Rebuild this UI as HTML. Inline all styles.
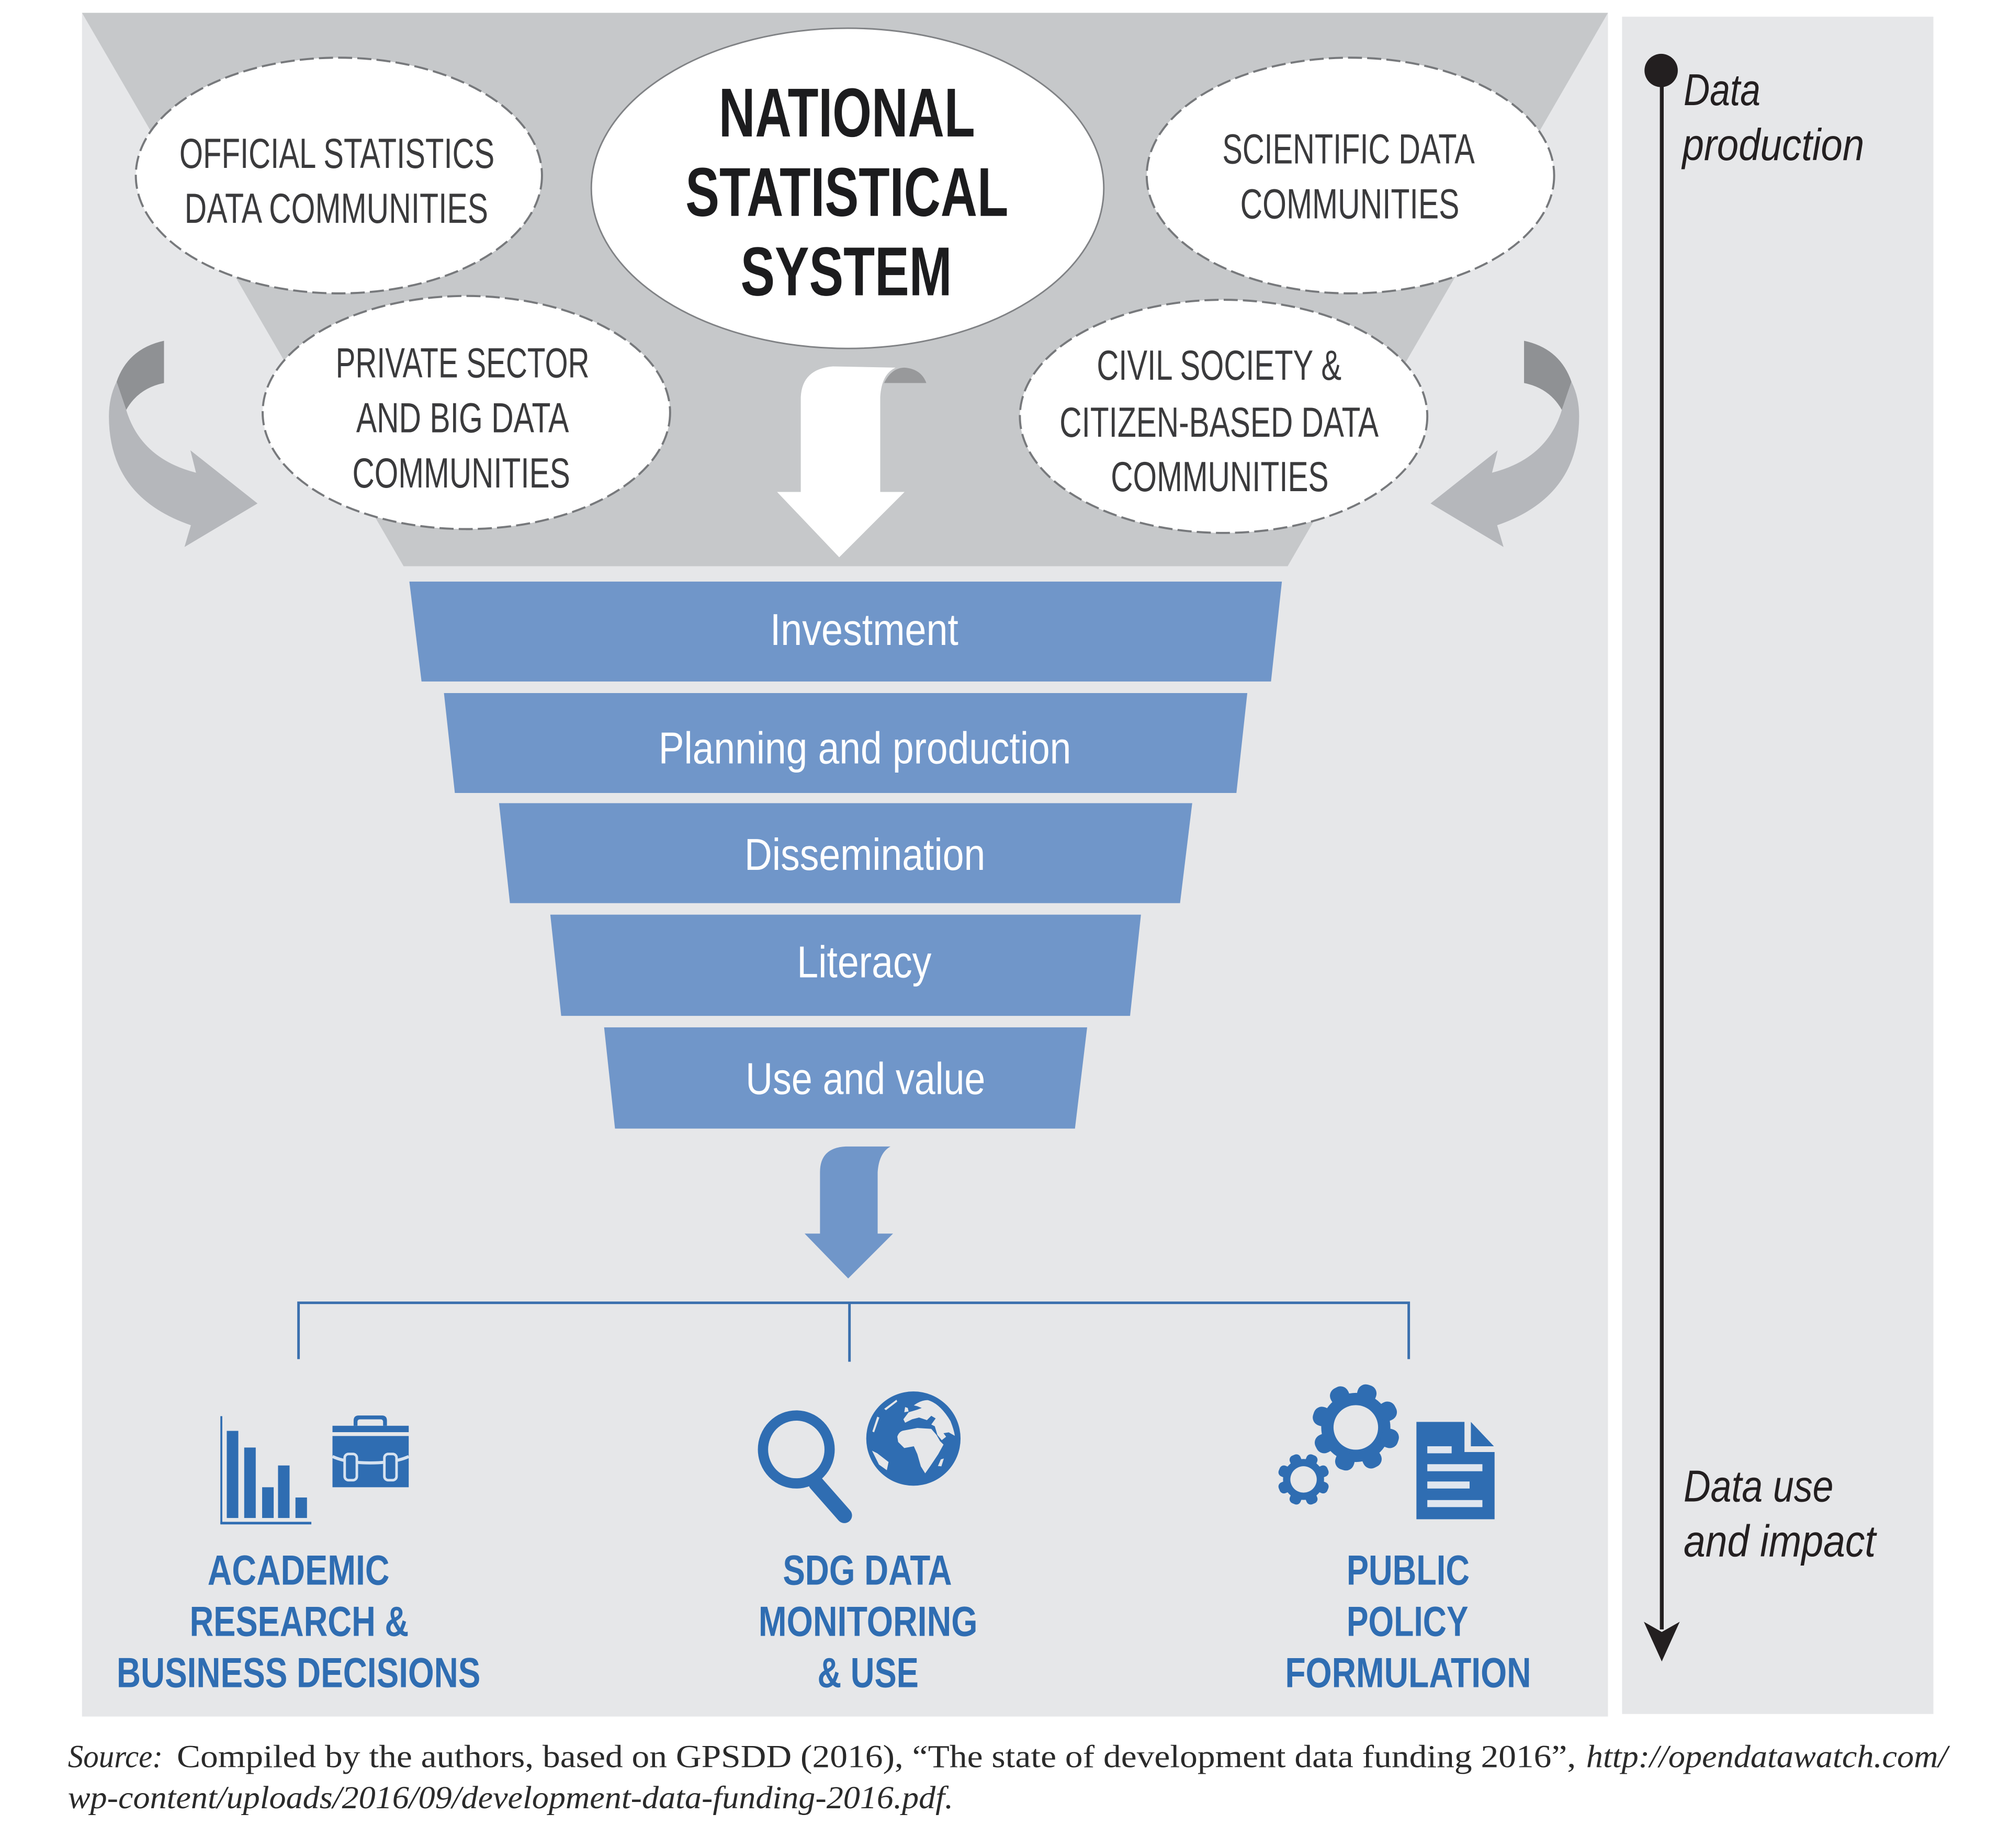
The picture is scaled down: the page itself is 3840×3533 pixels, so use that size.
<!DOCTYPE html>
<html><head><meta charset="utf-8"><style>
html,body{margin:0;padding:0;background:#fff}
svg{display:block}
text{font-family:"Liberation Sans",sans-serif}
.e{font-size:33px;fill:#3a3a3c}
.n{font-size:54px;font-weight:bold;fill:#1c1c1e}
.b{font-size:35px;fill:#fff}
.l{font-size:33px;font-weight:bold;fill:#2f6db2}
.i{font-size:35px;font-style:italic;fill:#231f20}
.s{font-family:"Liberation Serif",serif;font-size:25px;fill:#2a2a2a}
.si{font-style:italic}
</style></head><body>
<svg xmlns="http://www.w3.org/2000/svg" width="3840" height="3533" viewBox="0 0 1568 1442.6">
<rect width="1568" height="1442.6" fill="#fff"/>
<rect x="64" y="10" width="1191" height="1330" fill="#e6e7e9"/>
<rect x="1266" y="13" width="243" height="1325" fill="#e6e7e9"/>
<polygon points="64,10 1255,10 1005,442 315,442" fill="#c6c8ca"/>

<ellipse cx="661.500" cy="147" rx="200" ry="125" fill="#fff" stroke="#808285" stroke-width="1.2"/>
<g fill="#fff" stroke="#77797c" stroke-width="1.6" stroke-dasharray="11 4">
<ellipse cx="264.500" cy="137" rx="158.500" ry="92"/>
<ellipse cx="1054" cy="137" rx="159" ry="92"/>
<ellipse cx="364" cy="322" rx="159" ry="91"/>
<ellipse cx="955" cy="325" rx="159" ry="91"/>
</g>

<text class="e" x="140" y="131" textLength="246" lengthAdjust="spacingAndGlyphs">OFFICIAL STATISTICS</text>
<text class="e" x="144" y="174" textLength="237" lengthAdjust="spacingAndGlyphs">DATA COMMUNITIES</text>
<text class="e" x="954" y="127.500" textLength="197" lengthAdjust="spacingAndGlyphs">SCIENTIFIC DATA</text>
<text class="e" x="968" y="170.500" textLength="171" lengthAdjust="spacingAndGlyphs">COMMUNITIES</text>
<text class="e" x="262" y="294.500" textLength="198" lengthAdjust="spacingAndGlyphs">PRIVATE SECTOR</text>
<text class="e" x="278" y="337.500" textLength="166" lengthAdjust="spacingAndGlyphs">AND BIG DATA</text>
<text class="e" x="275" y="380.500" textLength="170" lengthAdjust="spacingAndGlyphs">COMMUNITIES</text>
<text class="e" x="856" y="296.500" textLength="191" lengthAdjust="spacingAndGlyphs">CIVIL SOCIETY &amp;</text>
<text class="e" x="827" y="341" textLength="249" lengthAdjust="spacingAndGlyphs">CITIZEN-BASED DATA</text>
<text class="e" x="867" y="383.500" textLength="170" lengthAdjust="spacingAndGlyphs">COMMUNITIES</text>

<text class="n" x="561" y="106.500" textLength="200" lengthAdjust="spacingAndGlyphs">NATIONAL</text>
<text class="n" x="535" y="168.500" textLength="252" lengthAdjust="spacingAndGlyphs">STATISTICAL</text>
<text class="n" x="578" y="230.500" textLength="165" lengthAdjust="spacingAndGlyphs">SYSTEM</text>

<!-- white arrow -->
<path d="M690 299 Q696 287 706 287 Q719 288 723 299 Z" fill="#98999b"/>
<path d="M625 384 V310 Q626 288 650 286 L699 287 Q688 292 687 310 V384 H706 L655 435 L606.500 384 Z" fill="#fff"/>

<!-- side arrows -->
<g>
<path d="M128 266 V299 Q108 303 98.500 320 L91 298 Q100 272 128 266 Z" fill="#8f9194"/>
<path d="M91 298 L98.500 320 Q110 358 153 369 L148.600 351.500 L201 393 L144 427 L149 410 Q85 388 85 325 Q85 310 91 298 Z" fill="#b5b7bb"/>
</g>
<g transform="translate(1317.5,0) scale(-1,1)">
<path d="M128 266 V299 Q108 303 98.500 320 L91 298 Q100 272 128 266 Z" fill="#8f9194"/>
<path d="M91 298 L98.500 320 Q110 358 153 369 L148.600 351.500 L201 393 L144 427 L149 410 Q85 388 85 325 Q85 310 91 298 Z" fill="#b5b7bb"/>
</g>

<!-- funnel bars -->
<g fill="#7096c9">
<polygon points="319.500,454 1000.500,454 992,532 329,532"/>
<polygon points="346.500,541 973.500,541 965,619 355,619"/>
<polygon points="389.500,627 930.500,627 921,705 398,705"/>
<polygon points="429.500,714 890.500,714 882,793 438,793"/>
<polygon points="471.500,802 848.500,802 839,881 480,881"/>
</g>
<text class="b" x="601" y="503.500" textLength="147" lengthAdjust="spacingAndGlyphs">Investment</text>
<text class="b" x="514" y="596" textLength="322" lengthAdjust="spacingAndGlyphs">Planning and production</text>
<text class="b" x="581" y="679" textLength="188" lengthAdjust="spacingAndGlyphs">Dissemination</text>
<text class="b" x="622" y="763" textLength="105" lengthAdjust="spacingAndGlyphs">Literacy</text>
<text class="b" x="582" y="854" textLength="187" lengthAdjust="spacingAndGlyphs">Use and value</text>

<!-- blue arrow -->
<path d="M640 963 V915 Q640 896 660 895 H695 Q686 900 685 915 V963 H697 L662 998 L628 963 Z" fill="#7096c9"/>

<!-- connector -->
<path d="M233 1061 V1017 H1099.500 V1061 M663 1017 V1063" fill="none" stroke="#3b70ae" stroke-width="2"/>

<!-- chart icon -->
<g fill="#2f6db2">
<rect x="172" y="1105.500" width="1.500" height="84"/>
<rect x="172" y="1188" width="71" height="2"/>
<rect x="177" y="1117" width="9" height="68"/>
<rect x="190.600" y="1130" width="9" height="55"/>
<rect x="204.600" y="1161" width="9" height="24"/>
<rect x="217" y="1144" width="9" height="41"/>
<rect x="230.600" y="1169" width="9" height="16"/>
<!-- briefcase -->
<path d="M276 1113 V1109 Q276 1105 280 1105 H298 Q302 1105 302 1109 V1113 H299 V1110 Q299 1108 297 1108 H281 Q279 1108 279 1110 V1113 Z"/>
<rect x="259.500" y="1113" width="59.500" height="5"/>
<rect x="259.500" y="1121" width="59.500" height="40"/>
</g>
<path d="M259.500 1137 Q270 1142 289 1142 Q308 1142 319 1137" fill="none" stroke="#d6e2f0" stroke-width="2.400"/>
<g fill="#2f6db2" stroke="#d6e2f0" stroke-width="2">
<rect x="269" y="1135" width="9.500" height="20.500" rx="3"/>
<rect x="300" y="1135" width="9.500" height="20.500" rx="3"/>
</g>

<!-- magnifier -->
<ellipse cx="621.500" cy="1131.500" rx="26" ry="26.500" fill="none" stroke="#2f6db2" stroke-width="8"/>
<line x1="637" y1="1158" x2="659" y2="1183" stroke="#2f6db2" stroke-width="12" stroke-linecap="round"/>

<!-- globe -->
<circle cx="712.900" cy="1123" r="36.800" fill="#2f6db2"/>
<g transform="translate(669.7,1078) scale(0.1361)" fill="#e6e7e9">
<path d="M320 140 Q360 110 400 110 Q470 130 530 230 Q550 280 555 315 L520 295 L490 300 L505 320 L480 340 L455 310 L440 260 L420 250 L445 215 L420 200 L395 225 L350 210 L310 220 L270 240 L260 220 L290 180 L340 165 L365 155 L340 145 Z"/>
<path d="M225 320 Q235 290 260 285 L340 270 L420 275 L450 310 L470 345 L490 365 L460 420 L420 480 L385 530 L360 490 L340 420 L320 375 L265 385 L230 350 Z"/>
<path d="M270 150 L285 155 L290 175 L265 180 Z"/>
<path d="M150 160 L220 108 L225 118 L160 168 Z"/>
<path d="M82 290 L110 205 L122 210 L92 295 Z"/>
<path d="M80 400 L110 415 L175 465 L165 512 L120 480 Z"/>
<path d="M458 488 L475 450 L492 445 L478 490 Z"/>
</g>

<!-- gears -->
<g fill="#2f6db2">
<circle cx="1058.200" cy="1114.300" r="27"/>
<g transform="translate(1058.2,1114.3)">
<rect x="-7.500" y="-34.700" width="15" height="14" rx="6.500" transform="rotate(18)"/>
<rect x="-7.500" y="-34.700" width="15" height="14" rx="6.500" transform="rotate(63)"/>
<rect x="-7.500" y="-34.700" width="15" height="14" rx="6.500" transform="rotate(108)"/>
<rect x="-7.500" y="-34.700" width="15" height="14" rx="6.500" transform="rotate(153)"/>
<rect x="-7.500" y="-34.700" width="15" height="14" rx="6.500" transform="rotate(198)"/>
<rect x="-7.500" y="-34.700" width="15" height="14" rx="6.500" transform="rotate(243)"/>
<rect x="-7.500" y="-34.700" width="15" height="14" rx="6.500" transform="rotate(288)"/>
<rect x="-7.500" y="-34.700" width="15" height="14" rx="6.500" transform="rotate(333)"/>
</g>
<circle cx="1017.400" cy="1154.900" r="16"/>
<g transform="translate(1017.4,1154.9)">
<rect x="-4.500" y="-20.500" width="9" height="9" rx="3.500" transform="rotate(22.5)"/>
<rect x="-4.500" y="-20.500" width="9" height="9" rx="3.500" transform="rotate(67.5)"/>
<rect x="-4.500" y="-20.500" width="9" height="9" rx="3.500" transform="rotate(112.5)"/>
<rect x="-4.500" y="-20.500" width="9" height="9" rx="3.500" transform="rotate(157.5)"/>
<rect x="-4.500" y="-20.500" width="9" height="9" rx="3.500" transform="rotate(202.5)"/>
<rect x="-4.500" y="-20.500" width="9" height="9" rx="3.500" transform="rotate(247.5)"/>
<rect x="-4.500" y="-20.500" width="9" height="9" rx="3.500" transform="rotate(292.5)"/>
<rect x="-4.500" y="-20.500" width="9" height="9" rx="3.500" transform="rotate(337.5)"/>
</g>
</g>
<circle cx="1058.200" cy="1114.300" r="17.400" fill="#e6e7e9"/>
<circle cx="1017.400" cy="1154.900" r="10.300" fill="#e6e7e9"/>

<!-- document -->
<path d="M1105.500 1110 H1143 V1133.500 H1166.500 V1186 H1105.500 Z" fill="#2f6db2"/>
<path d="M1148 1110 L1166 1129 H1148 Z" fill="#2f6db2"/>
<g fill="#e0e6ef">
<rect x="1114" y="1129" width="19" height="5.500"/>
<rect x="1114" y="1143" width="43" height="5.500"/>
<rect x="1114" y="1156.500" width="33" height="5.500"/>
<rect x="1114" y="1171" width="43" height="5.500"/>
</g>

<!-- bottom labels -->
<text class="l" x="162" y="1237" textLength="142" lengthAdjust="spacingAndGlyphs">ACADEMIC</text>
<text class="l" x="148" y="1277" textLength="171" lengthAdjust="spacingAndGlyphs">RESEARCH &amp;</text>
<text class="l" x="91" y="1317" textLength="284" lengthAdjust="spacingAndGlyphs">BUSINESS DECISIONS</text>
<text class="l" x="611" y="1237" textLength="132" lengthAdjust="spacingAndGlyphs">SDG DATA</text>
<text class="l" x="592" y="1277" textLength="171" lengthAdjust="spacingAndGlyphs">MONITORING</text>
<text class="l" x="638" y="1317" textLength="79" lengthAdjust="spacingAndGlyphs">&amp; USE</text>
<text class="l" x="1051" y="1237" textLength="96" lengthAdjust="spacingAndGlyphs">PUBLIC</text>
<text class="l" x="1051" y="1277" textLength="95" lengthAdjust="spacingAndGlyphs">POLICY</text>
<text class="l" x="1003" y="1317" textLength="192" lengthAdjust="spacingAndGlyphs">FORMULATION</text>

<!-- right panel -->
<line x1="1297" y1="55" x2="1297" y2="1272" stroke="#231f20" stroke-width="3"/>
<ellipse cx="1296.500" cy="55" rx="13" ry="13" fill="#231f20"/>
<polygon points="1283,1266 1297,1274 1311,1266 1297,1297" fill="#231f20"/>
<text class="i" x="1314" y="82" textLength="60" lengthAdjust="spacingAndGlyphs">Data</text>
<text class="i" x="1313" y="125" textLength="142" lengthAdjust="spacingAndGlyphs">production</text>
<text class="i" x="1314" y="1172" textLength="117" lengthAdjust="spacingAndGlyphs">Data use</text>
<text class="i" x="1314" y="1215" textLength="150" lengthAdjust="spacingAndGlyphs">and impact</text>

<!-- source -->
<text class="s si" x="53" y="1379.500" textLength="74" lengthAdjust="spacingAndGlyphs">Source:</text>
<text class="s" x="138" y="1379.500" textLength="1092" lengthAdjust="spacingAndGlyphs">Compiled by the authors, based on GPSDD (2016), “The state of development data funding 2016”,</text>
<text class="s si" x="1238" y="1379.500" textLength="282" lengthAdjust="spacingAndGlyphs">http://opendatawatch.com/</text>
<text class="s si" x="53" y="1411.500" textLength="691" lengthAdjust="spacingAndGlyphs">wp-content/uploads/2016/09/development-data-funding-2016.pdf.</text>
</svg>
</body></html>
